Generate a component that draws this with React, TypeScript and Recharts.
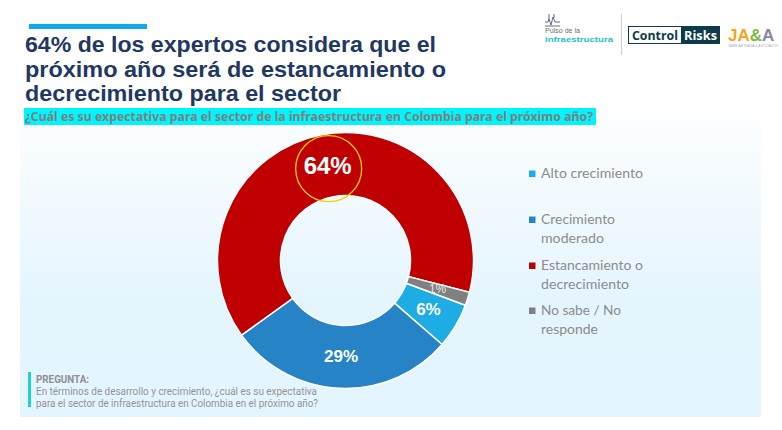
import React from 'react';
import { PieChart, Pie, Cell } from 'recharts';

const categories = ['Alto crecimiento', 'Crecimiento moderado', 'Estancamiento o decrecimiento', 'No sabe / No responde'];
const values = [5.7, 28.7, 63.9, 1.7];
const valueLabels = ['6%', '29%', '64%', '1%'];
const legendLines = [['Alto crecimiento'], ['Crecimiento', 'moderado'], ['Estancamiento o', 'decrecimiento'], ['No sabe / No', 'responde']];
const titleLines = ['64% de los expertos considera que el', 'próximo año será de estancamiento o', 'decrecimiento para el sector'];
const subtitle = '¿Cuál es su expectativa para el sector de la infraestructura en Colombia para el próximo año?';
const noteLabel = 'PREGUNTA:';
const noteLines = ['En términos de desarrollo y crecimiento, ¿cuál es su expectativa', 'para el sector de infraestructura en Colombia en el próximo año?'];

const COLORS = ['#1DACE4', '#2683C6', '#C00000', '#808080'];
const data = categories.map((name, i) => ({ name, value: values[i], label: valueLabels[i] }));

const titleWidths = [411, 421, 316];
const legendTop = [170.5, 216.5, 262.5, 307.5];
const legendLineWidths = [[102], [74, 63], [102, 88], [80, 57]];

const RAD = Math.PI / 180;
const labelStyles = [
  { size: 17, weight: 700, fill: '#ffffff' },
  { size: 17, weight: 700, fill: '#ffffff' },
  { size: 24, weight: 700, fill: '#ffffff' },
  { size: 12, weight: 400, fill: '#e8e8e8' },
];

const renderLabel = (props: any) => {
  const { cx, cy, midAngle, innerRadius, outerRadius, index } = props;
  const r = (innerRadius + outerRadius) / 2;
  const x = cx + r * Math.cos(-midAngle * RAD);
  const y = cy + r * Math.sin(-midAngle * RAD);
  const st = labelStyles[index];
  return (
    <g key={`lbl-${index}`}>
      {index === 2 && <circle cx={x + 1} cy={y + 3} r={33} fill="none" stroke="#F2CF00" strokeWidth={1.3} />}
      <text x={x} y={y} textAnchor="middle" dominantBaseline="central" fill={st.fill}
        fontFamily="'Liberation Sans', Arial, sans-serif" fontSize={st.size} fontWeight={st.weight}>
        {data[index].label}
      </text>
    </g>
  );
};

export default function App() {
  return (
    <div style={{ position: 'absolute', left: 0, top: 0, width: 782, height: 430, background: '#ffffff', overflow: 'hidden' }}>
      <svg width={782} height={430} style={{ position: 'absolute', left: 0, top: 0 }}>
        <defs>
          <linearGradient id="panelGrad" x1="0" y1="0" x2="0" y2="1">
            <stop offset="0%" stopColor="#ffffff" />
            <stop offset="65%" stopColor="#E4F5FE" />
            <stop offset="100%" stopColor="#E3F5FE" />
          </linearGradient>
        </defs>
        <rect x={20} y={95} width={741} height={322} fill="url(#panelGrad)" />
        {/* top accent bar */}
        <rect x={29} y={24} width={118} height={5} fill="#12A9E8" />
        {titleLines.map((t, i) => (
          <text key={i} x={25} y={52 + i * 24.5} fill="#1F3864" fontFamily="'Liberation Sans', Arial, sans-serif" fontWeight={700}
            fontSize={21.8} textLength={titleWidths[i]} lengthAdjust="spacingAndGlyphs">{t}</text>
        ))}
        {/* subtitle band */}
        <rect x={24} y={108} width={572} height={17} fill="#00F5FA" />
        <text x={25} y={121} fill="#7F7F7F" fontFamily="'Noto Sans', sans-serif" fontWeight={700} fontSize={12.5}
          textLength={568} lengthAdjust="spacingAndGlyphs">{subtitle}</text>

        {/* logos */}
        <g stroke="#3a4a5a" strokeWidth={0.8} fill="none">
          <polyline points="545,22 548,22 549,19 551,25 553,17 555,22 560,22" />
          <line x1={549} y1={14} x2={549} y2={19} />
          <line x1={554} y1={14} x2={554} y2={18} />
          <line x1={545} y1={26} x2={560} y2={26} />
        </g>
        <text x={545} y={33} fill="#6d6d6d" fontFamily="'Liberation Sans', Arial, sans-serif" fontSize={8} textLength={35} lengthAdjust="spacingAndGlyphs">Pulso de la</text>
        <text x={545} y={42} fill="#1FBFD3" fontFamily="'Liberation Sans', Arial, sans-serif" fontWeight={700} fontSize={8} textLength={68} lengthAdjust="spacingAndGlyphs">infraestructura</text>
        <line x1={621.5} y1={14} x2={621.5} y2={55} stroke="#cfcfcf" strokeWidth={1} />
        <rect x={628.5} y={26.5} width={91} height={17} fill="#ffffff" stroke="#0E3B4A" strokeWidth={1} />
        <rect x={681} y={26.5} width={39} height={17} fill="#0E3B4A" />
        <text x={632} y={40} fill="#0E3B4A" fontFamily="'Open Sans', sans-serif" fontWeight={700} fontSize={13} textLength={46} lengthAdjust="spacingAndGlyphs">Control</text>
        <text x={684} y={40} fill="#ffffff" fontFamily="'Open Sans', sans-serif" fontWeight={700} fontSize={13} textLength={33} lengthAdjust="spacingAndGlyphs">Risks</text>
        <text x={728} y={41} fontFamily="'Liberation Sans', Arial, sans-serif" fontWeight={700} fontSize={17}>
          <tspan fill="#F6A623">JA</tspan><tspan fill="#7DBB42">&amp;</tspan><tspan fill="#8A86A8">A</tspan>
        </text>
        <text x={728} y={46.5} fill="#b0b0b0" fontFamily="'Liberation Sans', Arial, sans-serif" fontSize={3} textLength={50} lengthAdjust="spacingAndGlyphs">JAIME ARTEAGA &amp; ASOCIADOS</text>

        {/* legend */}
        {categories.map((c, i) => (
          <g key={c}>
            <rect x={529} y={legendTop[i]} width={6.5} height={6.5} fill={COLORS[i]} />
            {legendLines[i].map((ln, j) => (
              <text key={j} x={541} y={legendTop[i] + 7.5 + j * 19} fill="#8C8C8C" fontFamily="Lato, 'Noto Sans', sans-serif"
                fontSize={14} textLength={legendLineWidths[i][j]} lengthAdjust="spacingAndGlyphs">{ln}</text>
            ))}
          </g>
        ))}

        {/* bottom note */}
        <rect x={28} y={372} width={3} height={35} fill="#22CDDD" />
        <text x={36} y={383} fill="#8F8F8F" fontFamily="Roboto, sans-serif" fontWeight={700} fontSize={10}
          textLength={53} lengthAdjust="spacingAndGlyphs">{noteLabel}</text>
        {noteLines.map((t, i) => (
          <text key={i} x={36} y={395 + i * 11.5} fill="#949494" fontFamily="Roboto, sans-serif" fontSize={10}
            textLength={i === 0 ? 281 : 282} lengthAdjust="spacingAndGlyphs">{t}</text>
        ))}
      </svg>
      <div style={{ position: 'absolute', left: 0, top: 0 }}>
        <PieChart width={782} height={430} margin={{ top: 0, right: 0, bottom: 0, left: 0 }}>
          <Pie data={data} dataKey="value" nameKey="name" cx={345.5} cy={260.5} innerRadius={65} outerRadius={128}
            startAngle={-20.5} endAngle={-380.5} stroke="#ffffff" strokeWidth={1.5}
            label={renderLabel} labelLine={false} isAnimationActive={false}>
            {data.map((d, i) => <Cell key={d.name} fill={COLORS[i]} />)}
          </Pie>
        </PieChart>
      </div>
    </div>
  );
}
